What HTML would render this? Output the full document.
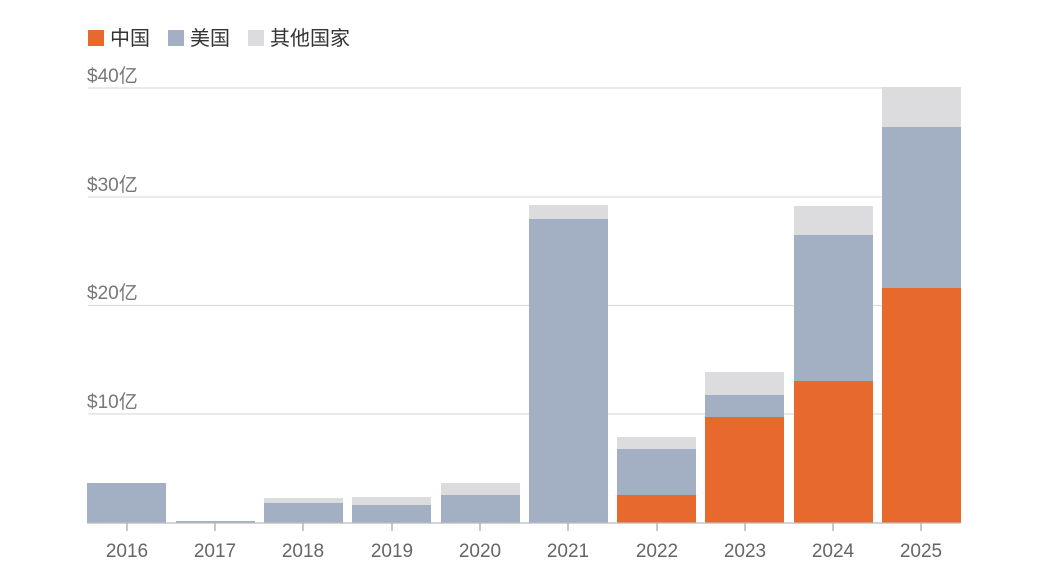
<!DOCTYPE html>
<html><head><meta charset="utf-8"><style>
body{margin:0;background:#fff;width:1050px;height:583px;overflow:hidden}
svg{display:block}
text{font-family:"Liberation Sans","Noto Sans CJK SC",sans-serif}
</style></head><body>
<svg width="1050" height="583" viewBox="0 0 1050 583">
<rect x="88" y="30" width="16" height="16" fill="#E8692E"/>
<text x="110" y="45" font-size="20" fill="#333">中国</text>
<rect x="168" y="30" width="16" height="16" fill="#A3AFC2"/>
<text x="190" y="45" font-size="20" fill="#333">美国</text>
<rect x="248" y="30" width="16" height="16" fill="#DCDCDE"/>
<text x="270" y="45" font-size="20" fill="#333">其他国家</text>
<g stroke="#ddd" stroke-width="1.3">
<line x1="88" y1="88" x2="960" y2="88"/>
<line x1="88" y1="197" x2="960" y2="197"/>
<line x1="88" y1="305.5" x2="960" y2="305.5"/>
<line x1="88" y1="414" x2="960" y2="414"/>
</g>
<g font-size="19" fill="#777">
<text x="87" y="82">$40亿</text>
<text x="87" y="191">$30亿</text>
<text x="87" y="299">$20亿</text>
<text x="87" y="408">$10亿</text>
</g>
<g>
<rect x="87" y="483" width="79" height="40" fill="#A3AFC2"/>
<rect x="176" y="521" width="79" height="2" fill="#A3AFC2"/>
<rect x="264" y="498" width="79" height="5" fill="#DCDCDE"/>
<rect x="264" y="503" width="79" height="20" fill="#A3AFC2"/>
<rect x="352" y="497" width="79" height="8" fill="#DCDCDE"/>
<rect x="352" y="505" width="79" height="18" fill="#A3AFC2"/>
<rect x="441" y="483" width="79" height="12" fill="#DCDCDE"/>
<rect x="441" y="495" width="79" height="28" fill="#A3AFC2"/>
<rect x="529" y="205" width="79" height="14" fill="#DCDCDE"/>
<rect x="529" y="219" width="79" height="304" fill="#A3AFC2"/>
<rect x="617" y="437" width="79" height="12" fill="#DCDCDE"/>
<rect x="617" y="449" width="79" height="46" fill="#A3AFC2"/>
<rect x="617" y="495" width="79" height="28" fill="#E8692E"/>
<rect x="705" y="372" width="79" height="23" fill="#DCDCDE"/>
<rect x="705" y="395" width="79" height="22" fill="#A3AFC2"/>
<rect x="705" y="417" width="79" height="106" fill="#E8692E"/>
<rect x="794" y="206" width="79" height="29" fill="#DCDCDE"/>
<rect x="794" y="235" width="79" height="146" fill="#A3AFC2"/>
<rect x="794" y="381" width="79" height="142" fill="#E8692E"/>
<rect x="882" y="87" width="79" height="40" fill="#DCDCDE"/>
<rect x="882" y="127" width="79" height="161" fill="#A3AFC2"/>
<rect x="882" y="288" width="79" height="235" fill="#E8692E"/>
</g>
<line x1="87" y1="523" x2="961" y2="523" stroke="#bbb" stroke-width="1.3"/>
<g stroke="#aaa" stroke-width="1.3">
<line x1="127" y1="523" x2="127" y2="531"/><line x1="215" y1="523" x2="215" y2="531"/>
<line x1="303" y1="523" x2="303" y2="531"/><line x1="392" y1="523" x2="392" y2="531"/>
<line x1="480" y1="523" x2="480" y2="531"/><line x1="568" y1="523" x2="568" y2="531"/>
<line x1="657" y1="523" x2="657" y2="531"/><line x1="745" y1="523" x2="745" y2="531"/>
<line x1="833" y1="523" x2="833" y2="531"/><line x1="921" y1="523" x2="921" y2="531"/>
</g>
<g font-size="19" fill="#666" text-anchor="middle">
<text x="127" y="557">2016</text><text x="215" y="557">2017</text>
<text x="303" y="557">2018</text><text x="392" y="557">2019</text>
<text x="480" y="557">2020</text><text x="568" y="557">2021</text>
<text x="657" y="557">2022</text><text x="745" y="557">2023</text>
<text x="833" y="557">2024</text><text x="921" y="557">2025</text>
</g>
</svg>
</body></html>
